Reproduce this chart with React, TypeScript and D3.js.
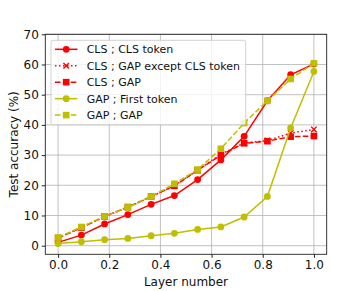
import React, { useEffect, useRef } from 'react';
import * as d3 from 'd3';

const layers = [0, 1, 2, 3, 4, 5, 6, 7, 8, 9, 10, 11].map(i => i / 11);

const clsClsToken = [1.1, 3.5, 7.2, 10.3, 13.7, 16.6, 21.9, 28.4, 36.2, 48.0, 56.6, 60.2];
const clsGapExceptCls = [2.6, 6.0, 9.6, 12.7, 16.2, 19.9, 25.0, 30.3, 34.0, 34.8, 37.3, 38.5];
const clsGap = [2.5, 6.0, 9.7, 12.8, 16.3, 19.8, 25.0, 30.0, 33.9, 34.6, 36.1, 36.3];
const gapFirstToken = [0.7, 1.3, 2.0, 2.4, 3.3, 4.1, 5.4, 6.2, 9.5, 16.3, 39.0, 57.7];
const gapGap = [2.7, 6.2, 9.7, 12.7, 16.3, 20.5, 25.2, 32.1, 40.6, 48.0, 55.2, 60.4];

const xTicks = [0, 0.2, 0.4, 0.6, 0.8, 1.0];
const yTicks = [0, 10, 20, 30, 40, 50, 60, 70];

type Marker = 'circle' | 'square' | 'x';

interface Series {
  label: string;
  values: number[];
  color: string;
  dash: string | null;
  marker: Marker;
}

const RED = '#ff0000';
const OLIVE = '#bfbf00';

const seriesList: Series[] = [
  { label: 'CLS ; CLS token', values: clsClsToken, color: RED, dash: null, marker: 'circle' },
  { label: 'CLS ; GAP except CLS token', values: clsGapExceptCls, color: RED, dash: '1.5,2.5', marker: 'x' },
  { label: 'CLS ; GAP', values: clsGap, color: RED, dash: '5.5,2.4', marker: 'square' },
  { label: 'GAP ; First token', values: gapFirstToken, color: OLIVE, dash: null, marker: 'circle' },
  { label: 'GAP ; GAP', values: gapGap, color: OLIVE, dash: '5.5,2.4', marker: 'square' },
];

const FONT = 'DejaVu Sans, sans-serif';

const drawMarker = (
  g: d3.Selection<SVGGElement, unknown, null, undefined>,
  kind: Marker,
  cx: number,
  cy: number,
  color: string
) => {
  if (kind === 'circle') {
    g.append('circle').attr('cx', cx).attr('cy', cy).attr('r', 3.4).attr('fill', color);
  } else if (kind === 'square') {
    g.append('rect').attr('x', cx - 3.3).attr('y', cy - 3.3).attr('width', 6.6).attr('height', 6.6).attr('fill', color);
  } else {
    const s = 2.8;
    g.append('path')
      .attr('d', `M${cx - s},${cy - s}L${cx + s},${cy + s}M${cx - s},${cy + s}L${cx + s},${cy - s}`)
      .attr('stroke', color)
      .attr('stroke-width', 1.4)
      .attr('fill', 'none');
  }
};

const Chart: React.FC = () => {
  const svgRef = useRef<SVGSVGElement | null>(null);

  useEffect(() => {
    if (!svgRef.current) return;
    const svg = d3.select(svgRef.current);
    svg.selectAll('*').remove();

    const left = 45.3, right = 326.7, top = 34.3, bottom = 254.3;

    const x = d3.scaleLinear().domain([-0.05, 1.05]).range([left, right]);
    const y = d3.scaleLinear().domain([-2.85, 70]).range([bottom, top]);

    const root = svg.append('g');

    // grid
    const grid = root.append('g');
    xTicks.forEach(t => {
      grid.append('line')
        .attr('x1', x(t)).attr('x2', x(t)).attr('y1', top).attr('y2', bottom)
        .attr('stroke', '#b0b0b0').attr('stroke-width', 0.9).attr('opacity', 0.85);
    });
    yTicks.forEach(t => {
      grid.append('line')
        .attr('x1', left).attr('x2', right).attr('y1', y(t)).attr('y2', y(t))
        .attr('stroke', '#b0b0b0').attr('stroke-width', 0.9).attr('opacity', 0.85);
    });

    // series
    seriesList.forEach(s => {
      const line = d3.line<number>()
        .x((_, i) => x(layers[i]))
        .y(d => y(d));
      const g = root.append('g');
      g.append('path')
        .attr('d', line(s.values))
        .attr('fill', 'none')
        .attr('stroke', s.color)
        .attr('stroke-width', 1.5)
        .attr('stroke-dasharray', s.dash ?? null);
      s.values.forEach((v, i) => drawMarker(g, s.marker, x(layers[i]), y(v), s.color));
    });

    // spines
    root.append('rect')
      .attr('x', left).attr('y', top)
      .attr('width', right - left).attr('height', bottom - top)
      .attr('fill', 'none').attr('stroke', '#222').attr('stroke-width', 0.9);

    // x axis
    const xAxis = root.append('g')
      .attr('transform', `translate(0,${bottom})`)
      .call(d3.axisBottom(x).tickValues(xTicks).tickFormat(d3.format('.1f')).tickSize(3.5).tickPadding(3));
    xAxis.select('.domain').remove();
    xAxis.selectAll('text').attr('font-family', FONT).attr('font-size', 12).attr('fill', '#111');
    xAxis.selectAll('line').attr('stroke', '#222');

    const yAxis = root.append('g')
      .attr('transform', `translate(${left},0)`)
      .call(d3.axisLeft(y).tickValues(yTicks).tickFormat(d3.format('d')).tickSize(3.5).tickPadding(3));
    yAxis.select('.domain').remove();
    yAxis.selectAll('text').attr('font-family', FONT).attr('font-size', 12).attr('fill', '#111');
    yAxis.selectAll('line').attr('stroke', '#222');

    root.append('text')
      .attr('x', (left + right) / 2).attr('y', 286)
      .attr('text-anchor', 'middle')
      .attr('font-family', FONT).attr('font-size', 12).attr('fill', '#111')
      .text('Layer number');

    root.append('text')
      .attr('transform', `translate(18,${(top + bottom) / 2}) rotate(-90)`)
      .attr('text-anchor', 'middle')
      .attr('font-family', FONT).attr('font-size', 12).attr('fill', '#111')
      .text('Test accuracy (%)');

    // legend
    const lg = root.append('g');
    lg.append('rect')
      .attr('x', 51).attr('y', 40.3).attr('width', 194.7).attr('height', 84.4)
      .attr('rx', 2)
      .attr('fill', 'white').attr('fill-opacity', 0.8)
      .attr('stroke', '#cccccc').attr('stroke-width', 0.9);
    seriesList.forEach((s, i) => {
      const ry = 49.3 + i * 16.45;
      lg.append('line')
        .attr('x1', 55).attr('x2', 77.5).attr('y1', ry).attr('y2', ry)
        .attr('stroke', s.color).attr('stroke-width', 1.5)
        .attr('stroke-dasharray', s.dash ?? null);
      drawMarker(lg, s.marker, 66.2, ry, s.color);
      lg.append('text')
        .attr('x', 86.7).attr('y', ry)
        .attr('dy', '0.36em')
        .attr('font-family', FONT).attr('font-size', 11).attr('fill', '#111')
        .text(s.label);
    });
  }, []);

  return <svg ref={svgRef} width={363} height={291} style={{ position: 'absolute', left: 0, top: 0, background: 'white' }} />;
};

export default function App() {
  return <Chart />;
}
